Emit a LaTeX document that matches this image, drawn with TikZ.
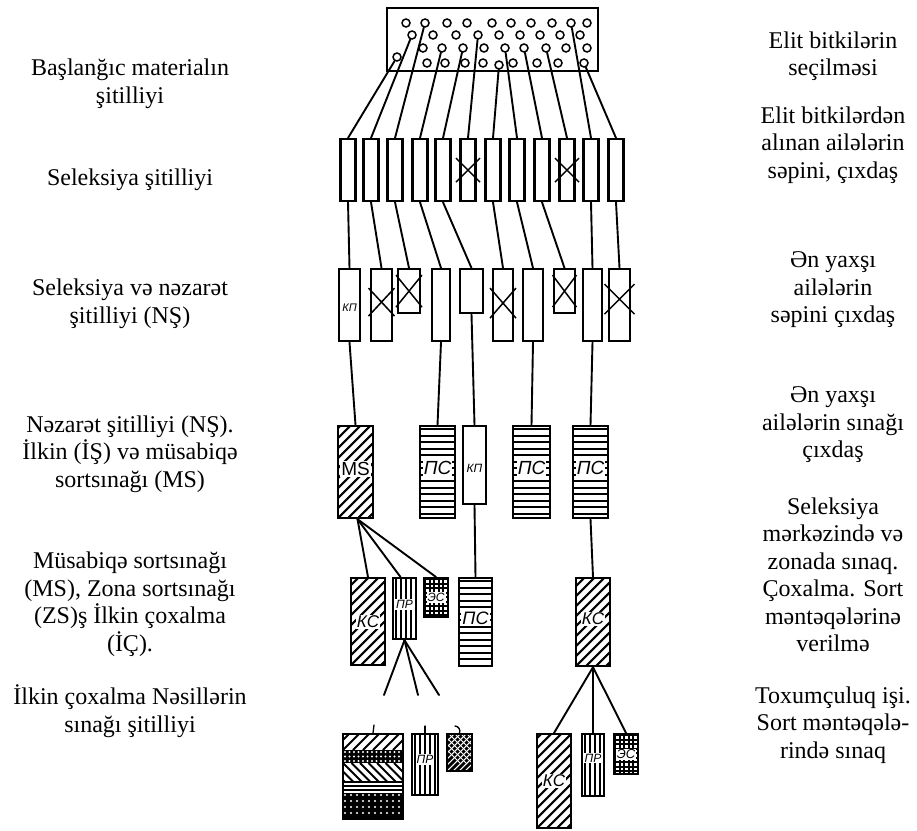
\documentclass[tikz,border=0pt]{standalone}
\usepackage{fontspec}
\setmainfont{Liberation Serif}
\setsansfont{Liberation Sans}
\usetikzlibrary{calc}

\begin{document}
\begin{tikzpicture}[x=1pt, y=-1pt,
  bed/.style={draw, line width=2.2pt, inner sep=0pt, anchor=north},
  link/.style={line width=1.9pt, line cap=round},
  seed/.style={draw, circle, line width=1.5pt, inner sep=0pt, minimum size=8pt},
  tag/.style={fill=white, inner sep=1pt, font=\sffamily\itshape\fontsize{#1}{#1}\selectfont},
  tag/.default=12,
  stage/.style={align=center, font=\fontsize{24}{27.5}\selectfont},
  diag/.style={path picture={
    \foreach \k in {-12,...,6}
      \draw[line width=2pt] ([xshift=\k*10pt]path picture bounding box.south west) -- ++(130pt,130pt);}},
  backdiag/.style={path picture={
    \foreach \k in {-4,...,8}
      \draw[line width=2pt] ([xshift=\k*8.5pt]path picture bounding box.north west) -- ++(40pt,-40pt);}},
  stripes/.style={path picture={
    \foreach \k in {0,...,15}
      \draw[line width=2pt] ([yshift=-\k*6.5pt-3pt]path picture bounding box.north west)
        -- ([yshift=-\k*6.5pt-3pt]path picture bounding box.north east);}},
  fine stripes/.style={path picture={
    \foreach \k in {0,...,4}
      \draw[line width=1.4pt] ([yshift=-\k*4pt-2pt]path picture bounding box.north west)
        -- ([yshift=-\k*4pt-2pt]path picture bounding box.north east);}},
  bars/.style={path picture={
    \foreach \k in {0,...,6}
      \draw[line width=1.8pt] ([xshift=\k*5pt+3pt]path picture bounding box.north west)
        -- ([xshift=\k*5pt+3pt]path picture bounding box.south west);}},
  mesh/.style={fill=black, path picture={
    \foreach \i in {0,...,5}
      \foreach \j in {0,...,9}
        \fill[white] ([xshift=\i*4.5pt+2.2pt, yshift=-\j*4.5pt-2.2pt]path picture bounding box.north west)
          rectangle ++(2.4pt,-2.4pt);}},
  speckle/.style={fill=black, path picture={
    \foreach \i in {0,...,14}
      \foreach \j in {0,...,6}
        \fill[white] ([xshift=\i*#1+2pt, yshift=-\j*#1-2pt]path picture bounding box.north west) circle (1.2pt);}},
  scribble/.style={fill=black, path picture={
    \foreach \k in {-6,...,4}
      \draw[white, line width=0.9pt] ([xshift=\k*6pt]path picture bounding box.south west) -- ++(45pt,45pt)
        ([xshift=\k*6pt+20pt]path picture bounding box.north west) -- ++(30pt,-30pt);}},
  cull/.style={line width=1.5pt}
]
  \useasboundingbox (0,0) rectangle (917,830);

  % Stage names, left
  \node[stage] (l1) at (130,84) {Başlanğıc materialın\\şitilliyi};
  \node[stage] (l2) at (130,180) {Seleksiya şitilliyi};
  \node[stage] (l3) at (130,304) {Seleksiya və nəzarət\\şitilliyi (NŞ)};
  \node[stage] (l4) at (130,454) {Nəzarət şitilliyi (NŞ).\\İlkin (İŞ) və müsabiqə\\sortsınağı (MS)};
  \node[stage] (l5) at (130,604) {Müsabiqə sortsınağı\\(MS), Zona sortsınağı\\(ZS)ş İlkin çoxalma\\(İÇ).};
  \node[stage] (l6) at (130,711) {İlkin çoxalma Nəsillərin\\sınağı şitilliyi};

  % Work done, right
  \node[stage] (n1) at (833,56) {Elit bitkilərin\\seçilməsi};
  \node[stage] (n2) at (833,145) {Elit bitkilərdən\\alınan ailələrin\\səpini, çıxdaş};
  \node[stage] (n3) at (833,290) {Ən yaxşı\\ailələrin\\səpini çıxdaş};
  \node[stage] (n4) at (833,425) {Ən yaxşı\\ailələrin sınağı\\çıxdaş};
  \node[stage] (n5) at (833,575) {Seleksiya\\mərkəzində və\\zonada sınaq.\\Çoxalma. Sort\\məntəqələrinə\\verilmə};
  \node[stage] (n6) at (833,725) {Toxumçuluq işi.\\Sort məntəqələ-\\rində sınaq};

  % Starting material
  \node[draw, line width=2.6pt, minimum width=211pt, minimum height=63pt, inner sep=0pt] (field) at (492.5,39.5) {};
  \foreach \n/\px/\py in {1/406/23, 2/447/23, 3/467/23, 4/492/23, 5/511/23, 6/531/23, 7/552/23, 8/587/23,
                          9/433/35, 10/456/35, 11/499/35, 12/520/35, 13/540/35, 14/560/35, 15/580/35,
                          16/423/48, 17/484/48, 18/566/48, 19/587/48,
                          20/427/63, 21/445/63, 22/465/63, 23/483/63, 24/513/63, 25/537/63, 26/558/63}
    \node[seed] (p\n) at (\px,\py) {};
  \foreach \n/\px/\py in {1/397/57, 2/412/35, 3/425/23, 4/442/48, 5/463/48, 6/478/35,
                          7/499/65, 8/505/48, 9/524/48, 10/546/48, 11/571/23, 12/584/63}
    \node[seed] (s\n) at (\px,\py) {};

  % Selection nursery
  \foreach \n/\cx in {1/348, 2/371, 3/395, 4/420, 5/443, 6/468, 7/493, 8/517, 9/542, 10/567, 11/591, 12/616}
    \node[bed, minimum width=15pt, minimum height=62pt] (r\n) at (\cx,138) {};
  \foreach \n in {6,10}
    \draw[cull] ($(r\n.center)+(-12,-12)$) -- ($(r\n.center)+(12,12)$)
                ($(r\n.center)+(-12,12)$) -- ($(r\n.center)+(12,-12)$);
  \foreach \n in {1,...,12}
    \draw[link] (s\n) -- (r\n.north);

  % Selection and control nursery
  \foreach \n/\cx/\w/\h in {1/349.5/21/72, 2/381.5/21/72, 3/409/22/44, 4/441/18/72, 5/471.5/23/44,
                            6/503/20/72, 7/533/20/72, 8/564.5/21/44, 9/592.5/19/72, 10/619.5/21/72}
    \node[bed, minimum width=\w pt, minimum height=\h pt] (q\n) at (\cx,268) {};
  \node[tag=11, fill=none] (q1l) at ([yshift=-3pt]q1.center) {КП};
  \foreach \n/\dx/\dy/\oy in {2/13/14/-3, 3/13/16/0, 6/13/15/-2, 8/12/16/0, 10/15/15/-6}
    \draw[cull] ($(q\n.center)+(-\dx,-\dy+\oy)$) -- ($(q\n.center)+(\dx,\dy+\oy)$)
                ($(q\n.center)+(-\dx,\dy+\oy)$) -- ($(q\n.center)+(\dx,-\dy+\oy)$);
  \foreach \a/\b in {1/1, 2/2, 3/3, 4/4, 5/5, 7/6, 8/7, 9/8, 11/9, 12/10}
    \draw[link] (r\a.south) -- (q\b.north);

  % Control nursery and trials
  \node[bed, diag, minimum width=35pt, minimum height=92pt] (ms) at (355.5,425) {};
  \node[bed, stripes, minimum width=35pt, minimum height=92pt] (ps1) at (437.5,425) {};
  \node[bed, minimum width=23pt, minimum height=78pt] (kp) at (474.5,425) {};
  \node[bed, stripes, minimum width=37pt, minimum height=92pt] (ps2) at (531.5,425) {};
  \node[bed, stripes, minimum width=35pt, minimum height=92pt] (ps3) at (590.5,425) {};
  \node[tag=19] (msl) at ([yshift=3pt]ms.center) {\upshape MS};
  \node[tag=19] (ps1l) at ([yshift=4pt]ps1.center) {ПС};
  \node[tag=12] (kpl) at ([yshift=-3pt]kp.center) {КП};
  \node[tag=19] (ps2l) at ([yshift=4pt]ps2.center) {ПС};
  \node[tag=19] (ps3l) at ([yshift=4pt]ps3.center) {ПС};
  \foreach \a/\b in {1/ms, 4/ps1, 5/kp, 7/ps2, 9/ps3}
    \draw[link] (q\a.south) -- (\b.north);

  % Competitive and zone trials
  \node[bed, diag, minimum width=34pt, minimum height=87pt] (ks1) at (368,577) {};
  \node[bed, bars, minimum width=23pt, minimum height=61pt] (pr1) at (404.5,577) {};
  \node[bed, mesh, minimum width=24pt, minimum height=39pt] (es1) at (436,577) {};
  \node[bed, stripes, minimum width=33pt, minimum height=88pt] (ps4) at (475.5,577) {};
  \node[bed, diag, minimum width=34pt, minimum height=88pt] (ks2) at (593,577) {};
  \node[tag=17] (ks1l) at (ks1.center) {КС};
  \node[tag=12] (pr1l) at ([yshift=4pt]pr1.center) {ПР};
  \node[tag=12] (es1l) at (es1.center) {ЭС};
  \node[tag=18] (ps4l) at ([yshift=4pt]ps4.center) {ПС};
  \node[tag=17] (ks2l) at ([yshift=3pt]ks2.center) {КС};
  \draw[link] ([xshift=2pt]ms.south) -- (ks1.north);
  \draw[link] ([xshift=2pt]ms.south) -- ([xshift=-4pt]pr1.north);
  \draw[link] ([xshift=2pt]ms.south) -- (es1.north);
  \draw[link] (kp.south) -- (ps4.north);
  \draw[link] (ps3.south) -- (ks2.north);

  % Progeny tests
  \coordinate (e1) at (384,695);
  \coordinate (e2) at (418,695);
  \coordinate (e3) at (439,695);
  \foreach \e in {e1,e2,e3}
    \draw[link] (pr1.south) -- (\e);

  \path[diag] (343,733) rectangle (403,750);
  \path[speckle=4.5pt] (343,750) rectangle (403,763);
  \path[backdiag] (343,763) rectangle (403,780);
  \path[fine stripes] (343,780) rectangle (403,793);
  \path[speckle=6pt] (343,793) rectangle (403,818);
  \node[bed, minimum width=60pt, minimum height=85pt] (mix) at (373,733) {};
  \node[bed, bars, minimum width=26pt, minimum height=61pt] (pr2) at (425,733) {};
  \node[bed, scribble, minimum width=25pt, minimum height=37pt] (es2) at (459.5,733) {};
  \node[tag=12] (pr2l) at ([yshift=5pt]pr2.center) {ПР};
  \coordinate (t1) at (374,725);
  \coordinate (t2) at (425,726);
  \coordinate (t3) at (455,726);
  \draw[link, line width=1.3pt] (t1) -- (mix.north);
  \draw[link, line width=1.3pt] (t2) -- (pr2.north);
  \draw[link, line width=1.3pt] (t3) to[bend left=60] (es2.north);

  \node[bed, diag, minimum width=34pt, minimum height=94pt] (ks3) at (554,733) {};
  \node[bed, bars, minimum width=22pt, minimum height=62pt] (pr3) at (593,733) {};
  \node[bed, mesh, minimum width=24pt, minimum height=40pt] (es3) at (626,733) {};
  \node[tag=17] (ks3l) at (ks3.center) {КС};
  \node[tag=12] (pr3l) at ([yshift=7pt]pr3.center) {ПР};
  \node[tag=13] (es3l) at (es3.center) {ЭС};
  \foreach \b in {ks3, pr3, es3}
    \draw[link] (ks2.south) -- (\b.north);
\end{tikzpicture}
\end{document}
